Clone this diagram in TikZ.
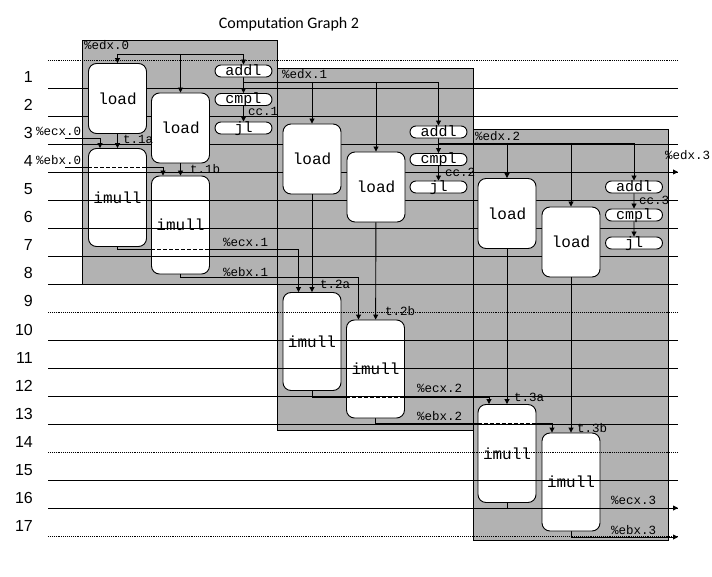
\documentclass[tikz,border=0pt]{standalone}
\usepackage{fontspec}
\setmonofont{Liberation Mono}
\newfontfamily\titlefont{Carlito}
\newfontfamily\rowfont{Liberation Sans}
\usetikzlibrary{arrows.meta, shapes.misc}
\definecolor{blockgray}{RGB}{178,178,178}
\pgfdeclarelayer{boxes}
\pgfdeclarelayer{front}
\pgfsetlayers{main,boxes,front}

\begin{document}
\begin{tikzpicture}[x=1pt, y=-1pt, >={Triangle[length=5pt, width=5pt]},
	block/.style={draw=black, fill=blockgray, line width=.9pt},
	unit/.style={draw, fill=white, line width=.9pt, rounded corners=8pt,
		inner sep=0pt, minimum width=58pt,
		font=\ttfamily\fontsize{16}{16}\selectfont},
	ldbox/.style={unit, minimum height=70pt},
	mulbox/.style={unit, minimum height=98pt},
	pill/.style={draw, fill=white, line width=.9pt, rounded rectangle,
		inner sep=0pt, minimum width=57pt, minimum height=12pt,
		text height=10.5pt, text depth=1.5pt,
		font=\ttfamily\fontsize{15}{15}\selectfont},
	wire/.style={->, line width=.9pt},
	hid/.style={line width=.9pt, dash pattern=on 4pt off 2pt},
	clk/.style={line width=.9pt},
	clkdot/.style={line width=.9pt, densely dotted},
	lbl/.style={anchor=base west, inner sep=0pt,
		font=\ttfamily\fontsize{12.5}{12.5}\selectfont},
	rowlbl/.style={anchor=base east, inner sep=0pt,
		font=\rowfont\fontsize{16}{16}\selectfont}]
	\def\x{48}		% left end of cycle lines
	\def\X{678}		% right end of cycle lines

	\useasboundingbox (0,0) rectangle (712,577);

	% Iteration blocks
	\draw[block] (82,40) rectangle (277,284);
	\draw[block] (277,68) rectangle (473,430);
	\draw[block] (473,129) rectangle (668,540);

	\begin{pgfonlayer}{boxes}
	% Multiply units (cycle lines run across them)
	\node[mulbox] (imullA1) at (117.5,197.5) {imull};
	\node[mulbox] (imullB1) at (180.5,225) {imull};
	\node[mulbox] (imullA2) at (312,341.5) {imull};
	\node[mulbox] (imullB2) at (375.5,369) {imull};
	\node[mulbox] (imullA3) at (507,453.5) {imull};
	\node[mulbox] (imullB3) at (571,482) {imull};

	% Cycle lines
	\foreach \k in {1,...,8,10,11,12,13,15,16}
		\draw[clk] (\x,{60+28*\k}) -- (\X,{60+28*\k});
	\foreach \k in {0,9,14,17}
		\draw[clkdot] (\x,{60+28*\k}) -- (\X,{60+28*\k});

	% Load units
	\node[ldbox] (loadA1) at (117.5,98.5) {load};
	\node[ldbox] (loadB1) at (180.5,128) {load};
	\node[ldbox] (loadA2) at (312,159) {load};
	\node[ldbox] (loadB2) at (376,187) {load};
	\node[ldbox] (loadA3) at (507,213.5) {load};
	\node[ldbox] (loadB3) at (571,242) {load};

	% Loop control
	\node[pill] (addl1) at (243.5,71) {addl};
	\node[pill] (cmpl1) at (243.5,99.5) {cmpl};
	\node[pill] (jl1) at (243.5,128) {jl};
	\node[pill] (addl2) at (438.5,132) {addl};
	\node[pill] (cmpl2) at (438.5,159.5) {cmpl};
	\node[pill] (jl2) at (438.5,187) {jl};
	\node[pill] (addl3) at (634,187) {addl};
	\node[pill] (cmpl3) at (634,215) {cmpl};
	\node[pill] (jl3) at (634,243) {jl};
	\end{pgfonlayer}

	% Index register
	\coordinate (edx0) at (117.5,54);
	\coordinate (edx1) at (243.5,82);
	\coordinate (edx2) at (438.5,143);
	\coordinate (edx3) at (634,172);
	\coordinate (edx3out) at (\X,172);
	\draw[wire] (edx0) -- (loadA1);
	\draw[wire] (edx0 -| loadB1) -- (loadB1);
	\draw[wire] (edx0) -| (addl1);
	\draw[wire] (edx1) -| (addl2);
	\draw[wire] (edx1 -| loadA2) -- (loadA2);
	\draw[wire] (edx1 -| loadB2) -- (loadB2);
	\draw[wire] (edx2) -| (addl3);
	\draw[wire] (edx2 -| loadA3) -- (loadA3);
	\draw[wire] (edx2 -| loadB3) -- (loadB3);
	\draw[wire] (edx3) -- (edx3out);

	\draw[wire] (addl1) -- (cmpl1);
	\draw[wire] (cmpl1) -- (jl1);
	\draw[wire] (addl2) -- (cmpl2);
	\draw[wire] (cmpl2) -- (jl2);
	\draw[wire] (addl3) -- (cmpl3);
	\draw[wire] (cmpl3) -- (jl3);

	% Loaded values
	\draw[wire] (loadA1) -- (imullA1);
	\draw[wire] (loadB1) -- (imullB1);
	\draw[wire] (loadA2) -- (imullA2);
	\draw[wire] (loadB2) -- (imullB2);
	\draw[wire] (loadA3) -- (imullA3);
	\draw[wire] (loadB3) -- (imullB3);

	% Product chains
	\coordinate (ecx0) at (65,138);
	\coordinate (ebx0) at (65,167);
	\coordinate (ecx1) at ([yshift=-3pt]imullA1.south);
	\coordinate (ebx1) at ([yshift=-3pt]imullB1.south);
	\coordinate (ecx2) at ([yshift=-6pt]imullA2.south);
	\coordinate (ebx2) at ([yshift=-5pt]imullB2.south);
	\coordinate (ecx3out) at (\X,508);
	\coordinate (ebx3out) at (\X,537);
	\draw[wire] (ecx0) -| ([xshift=-17.5pt]imullA1.north);
	\draw[wire] (ebx0) -| ([xshift=-17.5pt]imullB1.north);
	\draw[wire] (imullA1.south) -- (ecx1) -| ([xshift=-13.5pt]imullA2.north);
	\draw[wire] (imullB1.south) -- (ebx1) -| ([xshift=-17pt]imullB2.north);
	\draw[wire] (imullA2.south) -- (ecx2) -| ([xshift=-18pt]imullA3.north);
	\draw[wire] (imullB2.south) -- (ebx2) -| ([xshift=-19pt]imullB3.north);
	\draw[wire] (imullA3.south) |- (ecx3out);
	\draw[wire] (imullB3.south) |- (ebx3out);

	\begin{pgfonlayer}{front}
	% Wires seen through the multiply units
	\draw[hid] (imullA1.west |- ebx0) -- (imullA1.east |- ebx0);
	\draw[hid] (imullB1.west |- ecx1) -- (imullB1.east |- ecx1);
	\draw[hid] (imullB2.west |- ecx2) -- (imullB2.east |- ecx2);
	\draw[hid] (imullA3.west |- ebx2) -- (imullA3.east |- ebx2);
	\draw[hid] (imullB3.west |- ecx3out) -- (imullB3.east |- ecx3out);

	% Labels
	\node[anchor=base, inner sep=0pt, font=\titlefont\fontsize{16}{16}\selectfont]
		(title) at (289,29) {Computation Graph 2};
	\foreach \r in {1,...,17}
		\node[rowlbl] (row\r) at (33,{55+28*\r}) {\r};

	\node[lbl] (ledx0) at (84,50) {\%edx.0};
	\node[lbl] (ledx1) at (282,79) {\%edx.1};
	\node[lbl] (ledx2) at (475,141) {\%edx.2};
	\node[lbl] (ledx3) at (665,160) {\%edx.3};
	\node[lbl] (lecx0) at (36,136) {\%ecx.0};
	\node[lbl] (lebx0) at (36,165) {\%ebx.0};
	\node[lbl] (lcc1) at (248,116) {cc.1};
	\node[lbl] (lcc2) at (445,177) {cc.2};
	\node[lbl] (lcc3) at (639,205) {cc.3};
	\node[lbl] (lt1a) at (123,144) {t.1a};
	\node[lbl] (lt1b) at (190,174) {t.1b};
	\node[lbl] (lt2a) at (320,289) {t.2a};
	\node[lbl] (lt2b) at (385,316) {t.2b};
	\node[lbl] (lt3a) at (514,401) {t.3a};
	\node[lbl] (lt3b) at (577,432) {t.3b};
	\node[lbl] (lecx1) at (223,247) {\%ecx.1};
	\node[lbl] (lebx1) at (223,277) {\%ebx.1};
	\node[lbl] (lecx2) at (417,392) {\%ecx.2};
	\node[lbl] (lebx2) at (417,420) {\%ebx.2};
	\node[lbl] (lecx3) at (611,504) {\%ecx.3};
	\node[lbl] (lebx3) at (611,534) {\%ebx.3};
	\end{pgfonlayer}
\end{tikzpicture}
\end{document}
